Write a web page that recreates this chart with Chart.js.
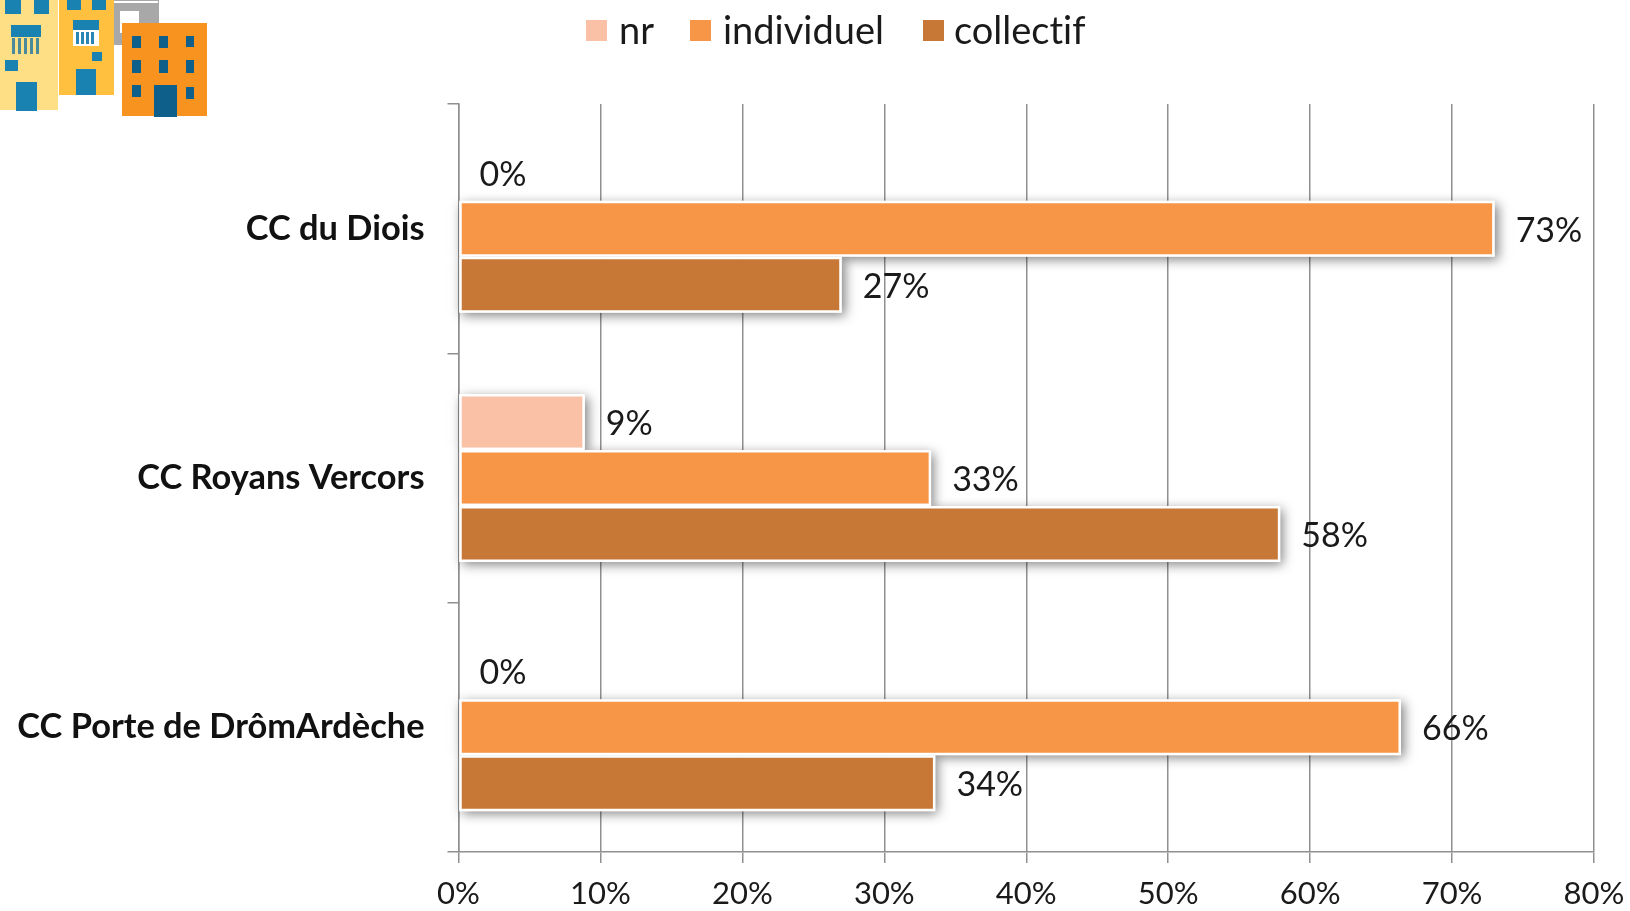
<!DOCTYPE html>
<html>
<head>
<meta charset="utf-8">
<script src="https://cdn.jsdelivr.net/npm/chart.js@4"></script>
<style>
    body { margin: 0; background: #fff; }
    #wrap { position: relative; width: 1630px; height: 911px; overflow: hidden; }
    #logo { position: absolute; left: 0; top: 0; filter: blur(0.5px); }
    #legend { position: absolute; top: 0; left: 0; height: 60px; font: 38px Lato, sans-serif; color: #1a1a1a; font-variant-ligatures: none; }
    #legend span { position: absolute; top: 8px; white-space: nowrap; line-height: 42px; }
    #legend i { position: absolute; top: 20px; width: 21px; height: 21px; }
</style>
</head>
<body>
<div id="wrap">
    <canvas id="chart" width="1630" height="911"></canvas>
    <div id="legend"></div>
    <svg id="logo" width="215" height="122" viewBox="0 0 215 122">
        <rect x="0" y="0" width="58" height="110" fill="#ffdf85"/>
        <g fill="#1a82b0">
            <rect x="5" y="0" width="16" height="14"/>
            <rect x="34" y="0" width="15" height="14"/>
            <rect x="11" y="25" width="30" height="12"/>
            <rect x="5" y="60" width="13" height="11"/>
            <rect x="16" y="82" width="21" height="29"/>
        </g>
        <g fill="#4a8a9a">
            <rect x="12" y="38" width="3" height="16"/>
            <rect x="18" y="38" width="3" height="16"/>
            <rect x="24" y="38" width="3" height="16"/>
            <rect x="30" y="38" width="3" height="16"/>
            <rect x="36" y="38" width="3" height="16"/>
        </g>
        <rect x="114" y="0" width="45" height="45" fill="#a8a8a8"/>
        <rect x="112" y="1" width="46" height="2" fill="#fff"/>
        <rect x="120" y="11" width="19" height="22" fill="#fff"/>
        <rect x="59" y="0" width="55" height="95" fill="#ffbf3f"/>
        <g fill="#1a82b0">
            <rect x="67" y="0" width="14" height="10"/>
            <rect x="92" y="0" width="14" height="10"/>
            <rect x="73" y="20" width="26" height="10"/>
            <rect x="92" y="52" width="10" height="9"/>
            <rect x="76" y="69" width="20" height="26"/>
        </g>
        <rect x="73" y="30" width="26" height="16" fill="#fff"/>
        <g fill="#2a86b4">
            <rect x="76" y="32" width="3" height="12"/>
            <rect x="81" y="32" width="3" height="12"/>
            <rect x="86" y="32" width="3" height="12"/>
            <rect x="91" y="32" width="3" height="12"/>
        </g>
        <rect x="122" y="23" width="85" height="93" fill="#f8931f"/>
        <g fill="#0e5f8a">
            <rect x="132" y="36" width="9" height="12"/>
            <rect x="159" y="36" width="9" height="12"/>
            <rect x="186" y="36" width="8" height="11"/>
            <rect x="132" y="60" width="9" height="13"/>
            <rect x="159" y="60" width="9" height="13"/>
            <rect x="186" y="60" width="8" height="13"/>
            <rect x="132" y="85" width="9" height="12"/>
            <rect x="186" y="87" width="8" height="12"/>
            <rect x="154" y="85" width="23" height="32"/>
        </g>
    </svg>
</div>
<script>
    const categories = ['CC du Diois', 'CC Royans Vercors', 'CC Porte de DrômArdèche'];
    const seriesNames = ['nr', 'individuel', 'collectif'];
    const seriesColors = ['#fac1a7', '#f79646', '#c77836'];
    const nrValues = [0, 8.9, 0];
    const individuelValues = [73, 33.3, 66.4];
    const collectifValues = [27, 57.9, 33.6];
    const xTicks = [0, 10, 20, 30, 40, 50, 60, 70, 80];

    // legend positions, left edge of swatch and of text
    const legendSlots = [[586, 619], [690, 723], [923, 954]];

    const gridColor = '#909090';
    const textColor = '#1a1a1a';
    const labelFont = '34px Lato, sans-serif';

    const barShadows = {
        id: 'barShadows',
        beforeDatasetsDraw(chart) {
            const ctx = chart.ctx;
            ctx.save();
            ctx.shadowColor = 'rgba(0,0,0,0.5)';
            ctx.shadowBlur = 11;
            ctx.shadowOffsetX = 3;
            ctx.shadowOffsetY = 3;
            ctx.fillStyle = '#fff';
            chart.data.datasets.forEach((ds, i) => {
                chart.getDatasetMeta(i).data.forEach((bar, j) => {
                    if (ds.data[j] === 0) return;
                    const p = bar.getProps(['x', 'y', 'base', 'height']);
                    ctx.fillRect(p.base, p.y - p.height / 2, p.x - p.base, p.height);
                });
            });
            ctx.restore();
        }
    };

    const barLabels = {
        id: 'barLabels',
        afterDatasetsDraw(chart) {
            const ctx = chart.ctx;
            ctx.save();
            ctx.font = labelFont;
            ctx.fillStyle = textColor;
            ctx.textAlign = 'left';
            ctx.textBaseline = 'middle';
            chart.data.datasets.forEach((ds, i) => {
                chart.getDatasetMeta(i).data.forEach((bar, j) => {
                    ctx.fillText(Math.round(ds.data[j]) + '%', bar.x + 21, bar.y + 2);
                });
            });
            ctx.restore();
        }
    };

    const htmlLegend = {
        id: 'htmlLegend',
        afterUpdate(chart) {
            const box = document.getElementById('legend');
            box.innerHTML = '';
            chart.data.datasets.forEach((ds, i) => {
                const swatch = document.createElement('i');
                swatch.style.left = legendSlots[i][0] + 'px';
                swatch.style.background = ds.backgroundColor;
                const name = document.createElement('span');
                name.style.left = legendSlots[i][1] + 'px';
                name.textContent = ds.label;
                box.append(swatch, name);
            });
        }
    };

    const datasets = [nrValues, individuelValues, collectifValues].map((values, i) => ({
        label: seriesNames[i],
        data: values,
        backgroundColor: seriesColors[i],
        borderColor: '#fff',
        borderWidth: 2.5,
        borderSkipped: false,
        barPercentage: 1,
        categoryPercentage: 0.674,
    }));

    new Chart(document.getElementById('chart'), {
        type: 'bar',
        data: { labels: categories, datasets: datasets },
        plugins: [barShadows, barLabels, htmlLegend],
        options: {
            indexAxis: 'y',
            responsive: false,
            animation: false,
            devicePixelRatio: 1,
            layout: { autoPadding: false, padding: { top: 104, right: 36, bottom: 0, left: 0 } },
            plugins: {
                legend: { display: false },
                tooltip: { enabled: false },
            },
            scales: {
                x: {
                    min: 0,
                    max: 80,
                    afterFit(scale) {
                        scale.height = 59;
                        // the last tick label may overflow, keep 80% on the plot edge
                        scale.paddingRight = 0;
                    },
                    afterBuildTicks(scale) { scale.ticks = xTicks.map(v => ({ value: v })); },
                    grid: { color: gridColor, lineWidth: 1.5, tickLength: 11 },
                    border: { color: gridColor, width: 1.5 },
                    ticks: {
                        padding: 12,
                        color: textColor,
                        maxRotation: 0,
                        font: { family: 'Lato, sans-serif', size: 31 },
                        callback: v => v + '%',
                    },
                },
                y: {
                    afterFit(scale) { scale.width = 458.5; },
                    grid: { color: gridColor, lineWidth: 1.5, tickLength: 11, drawOnChartArea: false },
                    border: { color: gridColor, width: 1.5 },
                    ticks: {
                        padding: 23,
                        color: '#111',
                        font: { family: 'Lato, sans-serif', size: 34.4, weight: 'bold' },
                    },
                },
            },
        },
    });
</script>
</body>
</html>
